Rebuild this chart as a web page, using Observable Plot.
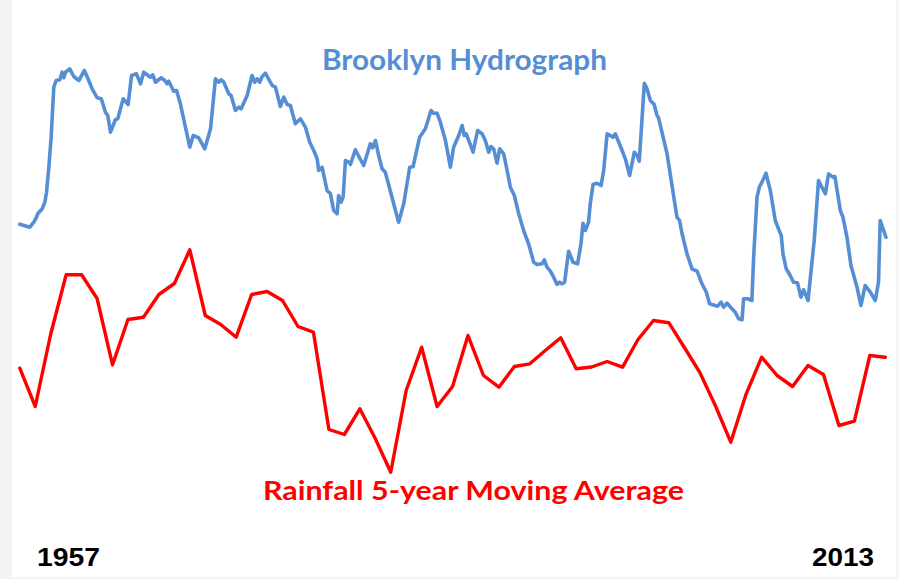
<!DOCTYPE html>
<html>
<head>
<meta charset="utf-8">
<script src="https://cdn.jsdelivr.net/npm/d3@7"></script>
<script src="https://cdn.jsdelivr.net/npm/@observablehq/plot@0.6"></script>
<style>
  html, body { margin: 0; padding: 0; background: #f3f3f3; }
  #wrap { position: relative; width: 899px; height: 579px; overflow: hidden; }
  #paper { position: absolute; left: 12px; top: 0; width: 884px; height: 577px; background: #ffffff; }
  #wrap svg { position: absolute; left: 0; top: 0; background: transparent; }
</style>
</head>
<body>
<div id="wrap"><div id="paper"></div></div>
<script>
// Brooklyn groundwater hydrograph (relative level, ft) — decimal year and level
const hydroYear = [1957.00, 1957.65, 1957.91, 1958.08, 1958.16, 1958.45, 1958.62, 1958.73, 1958.88, 1959.03, 1959.20, 1959.35, 1959.59, 1959.74, 1959.85, 1959.96, 1960.23, 1960.49, 1960.82, 1961.18, 1961.46, 1961.68, 1962.01, 1962.27, 1962.54, 1962.69, 1962.87, 1963.19, 1963.34, 1963.69, 1964.01, 1964.23, 1964.55, 1964.81, 1965.02, 1965.45, 1965.60, 1965.78, 1966.15, 1966.38, 1966.53, 1966.64, 1966.96, 1967.14, 1967.39, 1968.00, 1968.22, 1968.58, 1968.97, 1969.34, 1969.66, 1969.87, 1970.03, 1970.20, 1970.52, 1970.67, 1970.95, 1971.17, 1971.32, 1971.71, 1972.03, 1972.20, 1972.36, 1972.52, 1972.68, 1972.89, 1973.33, 1973.54, 1973.86, 1974.08, 1974.30, 1974.51, 1974.83, 1975.16, 1975.48, 1975.76, 1976.02, 1976.24, 1976.34, 1976.56, 1976.88, 1977.10, 1977.31, 1977.53, 1977.63, 1977.79, 1977.92, 1978.07, 1978.28, 1978.39, 1978.71, 1979.25, 1979.68, 1979.83, 1980.01, 1980.22, 1980.44, 1980.65, 1981.02, 1981.51, 1981.84, 1982.23, 1982.45, 1982.87, 1983.24, 1983.61, 1983.78, 1984.00, 1984.21, 1984.54, 1984.86, 1985.07, 1985.40, 1985.62, 1985.76, 1985.89, 1986.33, 1986.62, 1986.91, 1987.12, 1987.34, 1987.49, 1987.66, 1987.88, 1988.05, 1988.31, 1988.53, 1988.74, 1989.00, 1989.28, 1989.60, 1989.92, 1990.25, 1990.47, 1990.79, 1990.94, 1991.11, 1991.33, 1991.54, 1991.76, 1991.93, 1992.08, 1992.25, 1992.51, 1992.80, 1993.09, 1993.31, 1993.44, 1993.59, 1993.80, 1993.91, 1994.09, 1994.35, 1994.61, 1994.78, 1995.00, 1995.21, 1995.38, 1995.53, 1995.97, 1996.18, 1996.46, 1996.76, 1996.94, 1997.08, 1997.41, 1997.58, 1997.80, 1998.05, 1998.23, 1998.33, 1998.88, 1999.52, 1999.69, 1999.85, 2000.17, 2000.49, 2000.82, 2001.14, 2001.42, 2001.63, 2002.00, 2002.15, 2002.37, 2002.54, 2002.76, 2003.08, 2003.29, 2003.51, 2003.73, 2003.83, 2004.09, 2004.37, 2004.48, 2004.70, 2004.85, 2005.02, 2005.28, 2005.56, 2005.88, 2006.09, 2006.27, 2006.38, 2006.59, 2006.85, 2007.06, 2007.32, 2007.54, 2007.71, 2008.00, 2008.40, 2008.68, 2008.90, 2009.12, 2009.33, 2009.61, 2009.74, 2010.09, 2010.26, 2010.52, 2010.78, 2011.17, 2011.42, 2011.70, 2012.03, 2012.35, 2012.56, 2012.67, 2013.04];
const hydroLevel = [10.63, 10.33, 10.83, 11.33, 11.67, 12.17, 12.83, 13.83, 16.33, 19.33, 24.33, 25.0, 25.07, 25.83, 25.27, 25.83, 26.17, 25.4, 25.0, 26.0, 25.0, 24.17, 23.27, 23.17, 21.83, 21.5, 19.83, 21.1, 21.17, 23.17, 22.6, 25.5, 25.67, 24.67, 25.83, 25.33, 25.57, 24.83, 25.27, 25.0, 24.67, 24.93, 23.93, 24.0, 22.67, 18.33, 19.5, 19.27, 18.17, 20.17, 25.17, 24.83, 25.07, 24.83, 23.67, 23.5, 22.0, 22.33, 22.17, 23.5, 25.5, 24.83, 25.17, 24.83, 25.4, 25.73, 24.5, 24.33, 22.4, 23.33, 22.6, 22.5, 20.67, 21.17, 20.33, 18.83, 18.0, 17.17, 16.0, 16.33, 14.0, 13.67, 12.0, 11.67, 13.5, 12.83, 13.33, 17.0, 16.83, 16.6, 18.07, 16.5, 18.67, 18.27, 19.0, 17.5, 16.17, 15.83, 13.67, 10.83, 12.67, 16.33, 16.4, 19.33, 20.17, 22.0, 21.73, 21.73, 20.83, 19.0, 16.33, 18.33, 19.5, 20.5, 19.5, 19.67, 17.83, 20.0, 19.67, 19.0, 17.83, 18.4, 18.17, 16.73, 18.17, 17.67, 16.0, 14.33, 13.5, 11.67, 10.0, 8.67, 6.83, 6.6, 6.67, 7.07, 6.33, 5.93, 5.33, 4.6, 4.83, 4.67, 4.83, 7.93, 6.83, 6.67, 8.67, 10.73, 10.0, 10.83, 12.67, 14.6, 14.73, 14.5, 16.0, 19.67, 19.5, 19.33, 19.67, 18.0, 17.17, 15.5, 17.83, 17.5, 16.93, 24.73, 24.17, 23.0, 22.6, 21.5, 21.27, 17.67, 11.33, 11.0, 9.67, 7.67, 6.17, 5.93, 4.67, 3.83, 2.67, 2.5, 2.43, 2.83, 2.33, 2.73, 2.17, 1.83, 1.17, 1.07, 3.17, 3.17, 3.0, 7.33, 13.33, 14.33, 14.83, 15.73, 14.0, 11.0, 10.17, 9.5, 7.67, 6.17, 5.5, 4.83, 4.77, 3.33, 4.07, 3.0, 9.0, 15.0, 14.33, 13.67, 15.67, 15.33, 15.4, 12.0, 11.33, 9.33, 6.5, 4.33, 2.5, 4.5, 3.83, 3.0, 4.83, 11.0, 9.33];

// Rainfall 5-year moving average (inches), one value per year 1957–2013
const rainYear = [1957, 1958, 1959, 1960, 1961, 1962, 1963, 1964, 1965, 1966, 1967, 1968, 1969, 1970, 1971, 1972, 1973, 1974, 1975, 1976, 1977, 1978, 1979, 1980, 1981, 1982, 1983, 1984, 1985, 1986, 1987, 1988, 1989, 1990, 1991, 1992, 1993, 1994, 1995, 1996, 1997, 1998, 1999, 2000, 2001, 2002, 2003, 2004, 2005, 2006, 2007, 2008, 2009, 2010, 2011, 2012, 2013];
const rainAvg = [46.23, 42.4, 49.65, 55.57, 55.57, 53.2, 46.57, 51.1, 51.33, 53.6, 54.7, 58.07, 51.5, 50.6, 49.33, 53.6, 53.9, 53.0, 50.4, 49.83, 40.1, 39.6, 42.17, 39.2, 35.83, 44.0, 48.33, 42.4, 44.4, 49.5, 45.5, 44.33, 46.4, 46.67, 48.0, 49.27, 46.17, 46.35, 46.9, 46.33, 49.1, 51.0, 50.77, 48.3, 45.8, 42.5, 38.83, 43.67, 47.33, 45.5, 44.4, 46.5, 45.6, 40.5, 40.93, 47.5, 47.33];

const labels = ["Brooklyn Hydrograph", "Rainfall 5-year Moving Average", "1957", "2013"];

const BLUE = "#558ed5";
const RED = "#ff0000";
const W = 899, H = 579;

const n = Math.min(hydroYear.length, hydroLevel.length);
const hydro = d3.range(n).map(i => ({year: hydroYear[i], level: hydroLevel[i]}));
const rain = rainYear.map((y, i) => ({year: y, rain: rainAvg[i]}));

const xScale = {domain: [1957, 2013], range: [19.3, 884.8]};

const label = (txt, dx, dy, anchor, fill, size, family) =>
  Plot.text([txt], {frameAnchor: "top-left", lineAnchor: "middle", dx, dy, text: d => d,
    textAnchor: anchor, fill, fontSize: size, fontWeight: "bold", fontFamily: family});

const hydroPlot = Plot.plot({
  width: W, height: H, margin: 0,
  x: {...xScale, axis: null},
  y: {domain: [-24.9, 33], range: [H, 0], axis: null},
  style: {background: "transparent"},
  marks: [
    Plot.line(hydro, {x: "year", y: "level", stroke: BLUE, strokeWidth: 3.6}),
    label(labels[0], 464, 61, "middle", BLUE, 28, "Lato, 'Open Sans', sans-serif"),
    label(labels[1], 473, 490.7, "middle", RED, 27, "Lato, 'Open Sans', sans-serif"),
    label(labels[2], 36.5, 557.7, "start", "#000", 25, "'Liberation Sans', Arial, sans-serif"),
    label(labels[3], 873.5, 557.7, "end", "#000", 25, "'Liberation Sans', Arial, sans-serif")
  ]
});

const rainPlot = Plot.plot({
  width: W, height: H, margin: 0,
  x: {...xScale, axis: null},
  y: {domain: [25.1, 83], range: [H, 0], axis: null},
  style: {background: "transparent"},
  marks: [
    Plot.line(rain, {x: "year", y: "rain", stroke: RED, strokeWidth: 3.4})
  ]
});

// fit label widths to the reference
const widths = {"Brooklyn Hydrograph": 285, "Rainfall 5-year Moving Average": 421, "1957": 63, "2013": 62};
hydroPlot.querySelectorAll("text").forEach(t => {
  const w = widths[t.textContent];
  if (w) { t.setAttribute("textLength", w); t.setAttribute("lengthAdjust", "spacingAndGlyphs"); }
});

const wrap = document.getElementById("wrap");
wrap.appendChild(rainPlot);
wrap.appendChild(hydroPlot);
</script>
</body>
</html>
